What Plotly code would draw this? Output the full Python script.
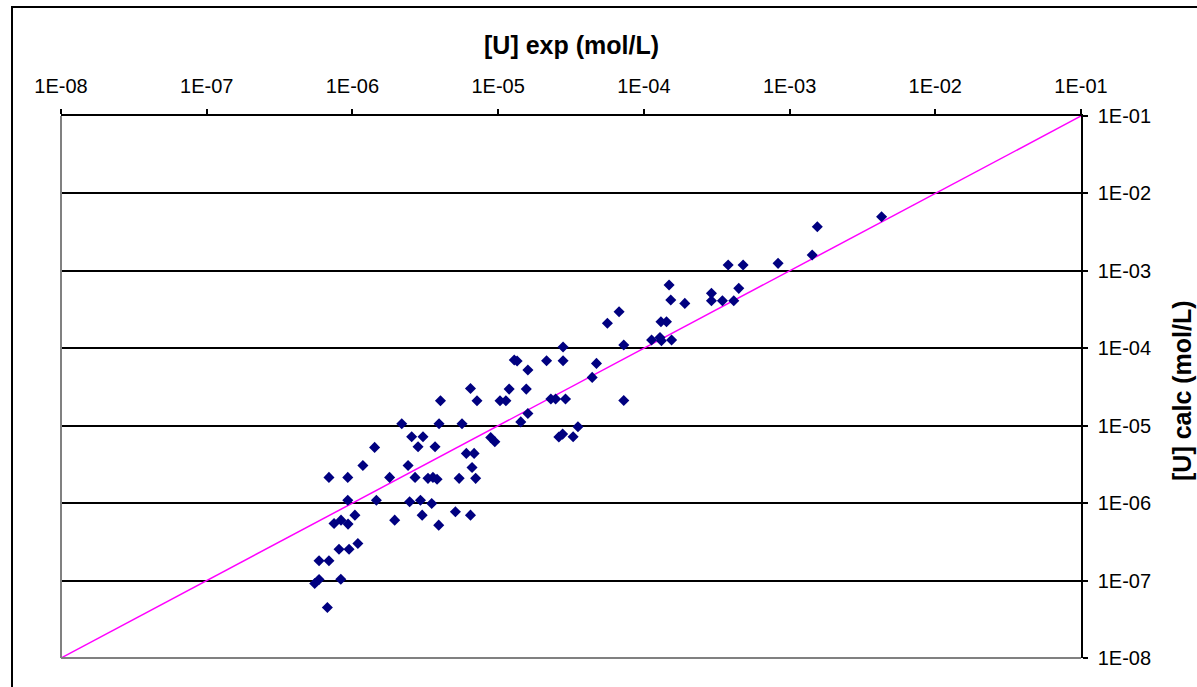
import plotly.graph_objects as go

# Experimental vs calculated uranium concentration (mol/L)
u_exp = [
    6.46e-6, 4.02e-6, 7.16e-6, 1.03e-5, 1.13e-5, 2.18e-6, 3.93e-6, 5.65e-6,
    2.55e-6, 3.05e-6, 2.82e-6, 3.69e-6, 8.89e-6, 9.49e-6, 1.42e-6, 6.05e-6,
    6.84e-6, 1.18e-6, 2.41e-6, 6.62e-6, 6.90e-7, 9.29e-7, 1.80e-6, 2.69e-6,
    3.30e-6, 3.57e-6, 3.81e-6, 5.40e-6, 7.01e-6, 9.29e-7, 1.46e-6, 2.47e-6,
    2.93e-6, 3.50e-6, 1.04e-6, 5.09e-6, 6.46e-6, 3.01e-6, 1.95e-6, 7.48e-7,
    8.35e-7, 9.33e-7, 3.91e-6, 1.09e-6, 8.09e-7, 9.48e-7, 5.90e-7, 6.90e-7,
    5.51e-7, 5.90e-7, 8.32e-7, 6.73e-7,
    2.79e-5, 7.28e-5, 1.29e-5, 1.35e-5, 2.15e-5, 2.79e-5, 1.60e-5, 4.73e-5,
    4.42e-5, 1.19e-5, 1.56e-5, 2.30e-5, 2.48e-5, 2.90e-5, 7.28e-5, 1.60e-5,
    1.43e-5, 3.53e-5, 2.61e-5, 2.77e-5, 3.27e-5,
    3.79e-4, 4.80e-4, 8.34e-4, 1.49e-4, 2.91e-4, 4.48e-4, 1.53e-4, 1.91e-4,
    2.91e-4, 3.46e-4, 4.14e-4, 6.76e-5, 5.62e-5, 1.31e-4, 1.43e-4, 1.13e-4,
    1.29e-4, 1.32e-4, 1.55e-4,
    4.28e-3, 1.55e-3, 1.43e-3,
]
u_calc = [
    3.03e-5, 2.10e-5, 2.10e-5, 2.10e-5, 2.10e-5, 1.06e-5, 1.06e-5, 1.06e-5,
    7.19e-6, 7.19e-6, 5.34e-6, 5.34e-6, 7.06e-6, 6.19e-6, 5.25e-6, 4.39e-6,
    4.39e-6, 3.07e-6, 3.07e-6, 2.89e-6, 2.15e-6, 2.15e-6, 2.15e-6, 2.15e-6,
    2.09e-6, 2.15e-6, 2.04e-6, 2.09e-6, 2.09e-6, 1.09e-6, 1.09e-6, 1.04e-6,
    1.09e-6, 9.91e-7, 7.00e-7, 7.72e-7, 7.00e-7, 7.00e-7, 6.03e-7, 5.47e-7,
    6.03e-7, 5.36e-7, 5.20e-7, 3.01e-7, 2.54e-7, 2.54e-7, 1.80e-7, 1.80e-7,
    9.17e-8, 1.03e-7, 1.04e-7, 4.49e-8,
    1.04e-4, 1.10e-4, 7.04e-5, 6.84e-5, 6.90e-5, 6.90e-5, 5.23e-5, 6.38e-5,
    4.21e-5, 2.97e-5, 2.97e-5, 2.21e-5, 2.21e-5, 2.21e-5, 2.12e-5, 1.44e-5,
    1.12e-5, 9.68e-6, 7.13e-6, 7.79e-6, 7.19e-6,
    1.19e-3, 1.19e-3, 1.25e-3, 6.56e-4, 5.12e-4, 5.94e-4, 4.20e-4, 3.80e-4,
    4.11e-4, 4.11e-4, 4.11e-4, 2.96e-4, 2.10e-4, 2.20e-4, 2.20e-4, 1.28e-4,
    1.38e-4, 1.25e-4, 1.28e-4,
    5.00e-3, 3.72e-3, 1.60e-3,
]

# 1:1 reference line
diag = [1e-8, 1e-1]

tick_vals = [1e-8, 1e-7, 1e-6, 1e-5, 1e-4, 1e-3, 1e-2, 1e-1]
tick_text = ["1E-08", "1E-07", "1E-06", "1E-05", "1E-04", "1E-03", "1E-02", "1E-01"]

x_title = "[U] exp (mol/L)"
y_title = "[U] calc (mol/L)"

FONT = "Liberation Sans, Arial, sans-serif"

fig = go.Figure()
fig.add_trace(go.Scatter(
    x=diag, y=diag, mode="lines",
    line=dict(color="#FF00FF", width=1.5),
    hoverinfo="skip", showlegend=False,
))
fig.add_trace(go.Scatter(
    x=u_exp, y=u_calc, mode="markers",
    marker=dict(symbol="diamond", size=8.5, color="#000080", line=dict(width=0)),
    showlegend=False,
))

W, H = 1197, 687
ml, mr, mt, mb = 61, 116, 116, 29

fig.update_layout(
    width=W, height=H,
    margin=dict(l=ml, r=mr, t=mt, b=mb, pad=0),
    paper_bgcolor="white", plot_bgcolor="white",
    font=dict(family=FONT, color="black", size=20),
    xaxis=dict(
        type="log", range=[-8, -1], side="top",
        tickvals=tick_vals, ticktext=tick_text,
        ticks="outside", ticklen=5, tickcolor="black", tickwidth=1.5,
        showline=True, linecolor="black", linewidth=1.5,
        showgrid=False, zeroline=False,
        tickfont=dict(size=20), ticklabelstandoff=8,
    ),
    yaxis=dict(
        type="log", range=[-8, -1], side="right",
        tickvals=tick_vals, ticktext=tick_text,
        ticks="outside", ticklen=5, tickcolor="black", tickwidth=1.5,
        showline=True, linecolor="black", linewidth=1.5,
        showgrid=True, gridcolor="black", gridwidth=1.5,
        zeroline=False,
        tickfont=dict(size=20), ticklabelstandoff=6,
    ),
    shapes=[
        # grey left and bottom plot-area borders
        dict(type="line", xref="paper", yref="paper", x0=0, x1=0, y0=0, y1=1,
             line=dict(color="#808080", width=2), layer="above"),
        dict(type="line", xref="paper", yref="paper", x0=0, x1=1, y0=0, y1=0,
             line=dict(color="#808080", width=2), layer="above"),
        # outer chart border
        dict(type="rect", xref="paper", yref="paper",
             x0=(12 - ml) / (W - ml - mr), x1=(W + 20 - ml) / (W - ml - mr),
             y0=(H - mb - (H + 20)) / (H - mt - mb), y1=(H - mb - 7) / (H - mt - mb),
             line=dict(color="black", width=2), layer="below"),
    ],
    annotations=[
        dict(text="<b>" + x_title + "</b>", xref="paper", yref="paper",
             x=0.5, y=(H - mb - 45) / (H - mt - mb), xanchor="center", yanchor="middle",
             showarrow=False, font=dict(size=25, family=FONT)),
        dict(text="<b>" + y_title + "</b>", xref="paper", yref="paper",
             x=(1182 - ml) / (W - ml - mr), y=(H - mb - 391) / (H - mt - mb),
             xanchor="center", yanchor="middle", textangle=-90,
             showarrow=False, font=dict(size=25, family=FONT)),
    ],
)

fig.write_html(
    "out.html",
    config={"displayModeBar": False},
    post_script="document.body.style.margin='0';document.body.style.overflow='hidden';",
)
